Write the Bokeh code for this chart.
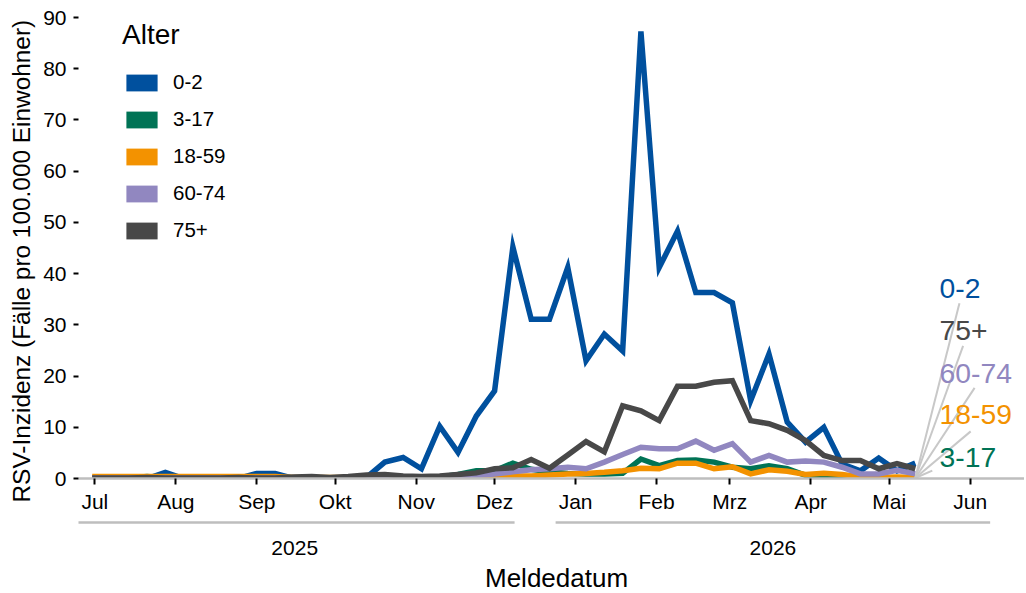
import pandas as pd
from bokeh.plotting import figure
from bokeh.models import Range1d, FixedTicker, Legend, LegendItem, Title
from bokeh.layouts import column
from bokeh.embed import file_html
from bokeh.resources import INLINE
from bokeh.core.properties import value

FONT = "Liberation Sans"

# ---------------- data ----------------
week_dates = list(pd.date_range("2025-06-30", "2026-05-11", freq="7D"))  # Meldewoche (Montag)

age_groups = ["0-2", "3-17", "18-59", "60-74", "75+"]
age_colors = ["#00509E", "#007355", "#F39200", "#9187C0", "#484848"]

inc_0_2 = [0, 0, 0, 0, 1.2, 0, 0, 0, 0, 1, 1, 0, 0, 0, 0,
           0.2, 3.2, 4.1, 1.9, 10.2, 5.1, 12.2, 17.1, 45.2, 31.1, 31.1, 41.2, 23.0, 28.2, 24.9,
           87.3, 41.2, 48.3, 36.3, 36.3, 34.3, 15.2, 24.3, 11.0, 7.1, 10.0, 2.8, 1.5, 4.0, 1.5, 3.0]
inc_3_17 = [0.1, 0.1, 0.1, 0.4, 0.1, 0.1, 0.1, 0.1, 0.1, 0.1, 0.1, 0.1, 0.1, 0.1, 0.1,
            0.1, 0.1, 0.1, 0.1, 0.3, 0.8, 1.5, 1.5, 3.0, 1.8, 1.3, 1.0, 0.9, 0.9, 1.0,
            3.8, 2.5, 3.5, 3.6, 3.2, 2.2, 1.9, 2.5, 1.9, 0.6, 0.2, 0.1, 0.1, 0.1, 0.1, 0.1]
inc_18_59 = [0.4, 0.4, 0.4, 0.4, 0.4, 0.4, 0.4, 0.4, 0.4, 0.4, 0.4, 0.2, 0.2, 0.2, 0.2,
             0.2, 0.2, 0.2, 0.2, 0.2, 0.2, 0.2, 0.3, 0.5, 0.5, 0.7, 0.9, 1.0, 1.2, 1.5,
             2.0, 1.9, 3.0, 3.0, 1.9, 2.3, 0.9, 1.7, 1.4, 0.8, 1.0, 0.8, 0.3, 0.2, 0.3, 0.2]
inc_60_74 = [0.1, 0.1, 0.1, 0.1, 0.1, 0.1, 0.1, 0.1, 0.1, 0.1, 0.1, 0.1, 0.1, 0.1, 0.1,
             0.1, 0.1, 0.3, 0.2, 0.2, 0.3, 0.6, 0.9, 1.3, 1.7, 1.9, 2.2, 1.9, 3.2, 4.7,
             6.1, 5.8, 5.8, 7.3, 5.5, 6.8, 3.2, 4.5, 3.2, 3.4, 3.2, 2.2, 0.9, 0.9, 1.6, 0.9]
inc_75p = [0.1, 0.1, 0.1, 0.2, 0.1, 0.1, 0.1, 0.1, 0.2, 0.1, 0.1, 0.3, 0.4, 0.2, 0.4,
           0.7, 0.8, 0.5, 0.4, 0.5, 0.8, 1.1, 1.9, 2.1, 3.7, 2.0, 4.6, 7.2, 5.2, 14.2,
           13.2, 11.3, 18.0, 18.0, 18.8, 19.1, 11.3, 10.7, 9.4, 7.4, 4.5, 3.5, 3.5, 1.9, 2.9, 1.9]
series = [inc_0_2, inc_3_17, inc_18_59, inc_60_74, inc_75p]

month_ticks = list(pd.date_range("2025-07-01", "2026-06-01", freq="MS"))
month_labels = ["Jul", "Aug", "Sep", "Okt", "Nov", "Dez",
                "Jan", "Feb", "Mrz", "Apr", "Mai", "Jun"]
year_labels = ["2025", "2026"]
y_ticks = list(range(0, 100, 10))

# ---------------- helpers / layout constants ----------------
DAY = 86400000
PX_PER_DAY = 2.613
PX_PER_UNIT = 5.122


def ms(d):
    return int(pd.Timestamp(d).value // 10**6)


LEFT = 78
FRAME_W, FRAME_H = 946, 478
MAIN_BOTTOM = 42
STRIP_H = 73
STRIP_REF = FRAME_H + MAIN_BOTTOM + STRIP_H   # page y of the strip's bottom edge

x0 = ms(month_ticks[0])
x_start = x0 - 6.24 * DAY
x_range = Range1d(x_start, x_start + FRAME_W / PX_PER_DAY * DAY)

# ---------------- main figure ----------------
p = figure(x_axis_type="datetime", x_range=x_range, y_range=Range1d(0, FRAME_H / PX_PER_UNIT),
           frame_width=FRAME_W, frame_height=FRAME_H,
           min_border_left=LEFT, min_border_right=0, min_border_top=0,
           min_border_bottom=MAIN_BOTTOM,
           output_backend="svg", toolbar_location=None)
p.outline_line_color = None
p.xgrid.visible = False
p.ygrid.visible = False

xa = p.xaxis[0]
xa.ticker = FixedTicker(ticks=[ms(d) for d in month_ticks])
xa.major_label_overrides = {ms(d): lab for d, lab in zip(month_ticks, month_labels)}
xa.axis_line_color = "#BEBEBE"
xa.axis_line_width = 2.5
xa.major_tick_line_color = "black"
xa.major_tick_line_width = 2
xa.major_tick_out = 6
xa.major_tick_in = 0
xa.minor_tick_line_color = None
xa.major_label_text_font = FONT
xa.major_label_text_font_size = "21px"
xa.major_label_text_color = "black"
xa.major_label_standoff = 5

ya = p.yaxis[0]
ya.ticker = FixedTicker(ticks=y_ticks)
ya.axis_line_color = None
ya.major_tick_line_color = "black"
ya.major_tick_line_width = 2
ya.major_tick_out = 5
ya.major_tick_in = 0
ya.minor_tick_line_color = None
ya.major_label_text_font = FONT
ya.major_label_text_font_size = "21px"
ya.major_label_text_color = "black"
ya.major_label_standoff = 7

ytitle = Title(text="RSV-Inzidenz (Fälle pro 100.000 Einwohner)", align="left", offset=-24,
               vertical_align="middle", standoff=9,
               text_font=FONT, text_font_size="24.4px", text_font_style="normal",
               text_color="black")
p.add_layout(ytitle, "left")

# lines
for vals, col in zip(series, age_colors):
    p.line(x=week_dates, y=vals, line_color=col, line_width=5.5, line_join="miter")

# end labels (repelled) with connectors
label_x = x0 + 323.3 * DAY
label_y = [37.0, 4.05, 12.5, 20.5, 28.9]
conn_dx = [7.6, -2.8, 11.9, 13.4, 9.0]
conn_dy = [-2.8, -2.5, -3.3, -2.8, -3.0]
start_y = min(s[-1] for s in series)
last_x = ms(week_dates[-1])
p.segment(x0=[last_x] * 5, y0=[start_y] * 5,
          x1=[label_x + dx * DAY for dx in conn_dx],
          y1=[ly + dy for ly, dy in zip(label_y, conn_dy)],
          line_color="#C8C8C8", line_width=2)
p.text(x=[label_x] * 5, y=label_y, text=age_groups, text_color=age_colors,
       text_font=value(FONT), text_font_size="28.3px",
       text_align="left", text_baseline="middle")

# legend with filled keys (zero-size boxes so only the key shows)
items = []
for g, col, vals in zip(age_groups, age_colors, series):
    r = p.quad(left=[week_dates[0]], right=[week_dates[0]], top=[vals[0]], bottom=[vals[0]],
               fill_color=col, line_color=None)
    items.append(LegendItem(label=g, renderers=[r]))
legend = Legend(items=items, title="Alter", location=(44, 236),
                border_line_color=None, background_fill_alpha=0,
                padding=0, margin=0, glyph_width=39, glyph_height=21,
                label_standoff=12, spacing=13, title_standoff=19,
                label_text_font=FONT, label_text_font_size="20.5px", label_text_color="black",
                title_text_font=FONT, title_text_font_size="28px",
                title_text_font_style="normal", title_text_color="black")
p.add_layout(legend)

# ---------------- year bracket strip ----------------
s = figure(x_range=x_range, y_range=Range1d(0, STRIP_H),
           frame_width=FRAME_W, frame_height=STRIP_H,
           min_border_left=LEFT, min_border_right=0, min_border_top=0, min_border_bottom=0,
           x_axis_location=None, y_axis_location=None,
           output_backend="svg", toolbar_location=None)
s.outline_line_color = None
s.xgrid.visible = False
s.ygrid.visible = False

PAD = 7.65 * DAY
bx0, bx1, bmid = [], [], []
for yl in year_labels:
    ticks = [ms(d) for d in month_ticks if str(d.year) == yl]
    bx0.append(ticks[0] - PAD)
    bx1.append(ticks[-1] + PAD)
    bmid.append((ticks[0] + ticks[-1]) / 2)
s.segment(x0=bx0, y0=[STRIP_REF - 522] * 2, x1=bx1, y1=[STRIP_REF - 522] * 2,
          line_color="#BEBEBE", line_width=2.5)
s.text(x=bmid, y=[STRIP_REF - 547] * 2, text=year_labels, text_color="black",
       text_font=value(FONT), text_font_size="21px",
       text_align="center", text_baseline="middle")
s.text(x=[x0 + 176.7 * DAY], y=[STRIP_REF - 577], text=["Meldedatum"], text_color="black",
       text_font=value(FONT), text_font_size="26px",
       text_align="center", text_baseline="middle")

layout = column(p, s, spacing=0)
open("out.html", "w").write(file_html(layout, INLINE))
